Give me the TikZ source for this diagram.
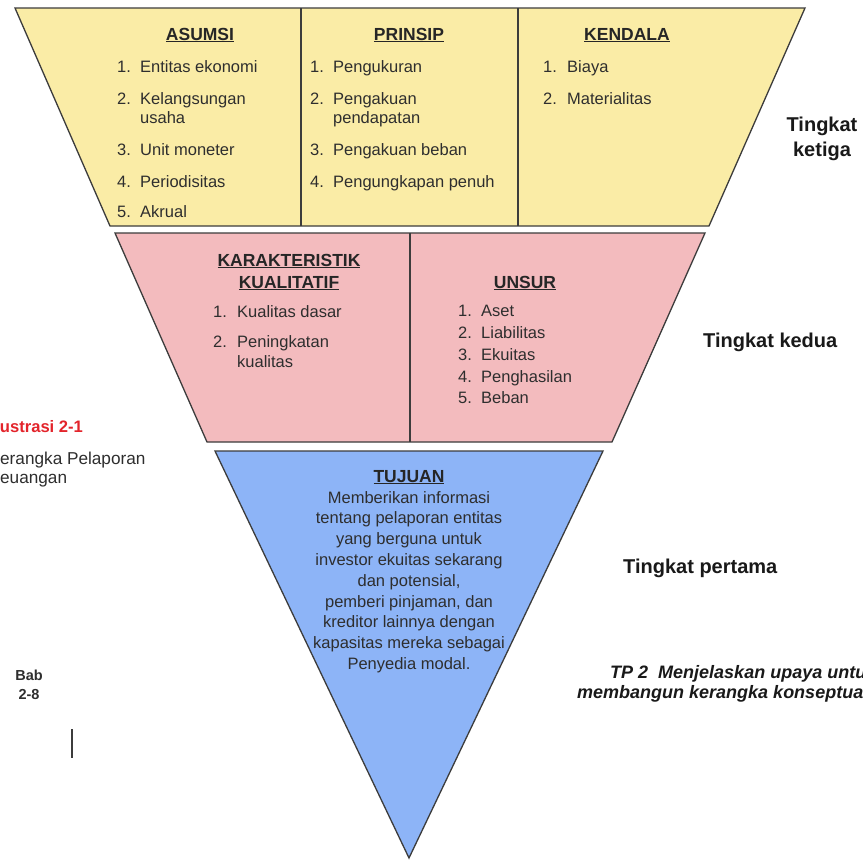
\documentclass[tikz,border=0pt]{standalone}
\usepackage{fontspec}
\setmainfont{Liberation Sans}
\definecolor{tieryellow}{HTML}{FAECA6}
\definecolor{tierpink}{HTML}{F3BBBE}
\definecolor{tierblue}{HTML}{8DB4F7}
\definecolor{edgegray}{HTML}{3C3C3C}
\definecolor{inkgray}{HTML}{2E2E2E}
\definecolor{labelred}{HTML}{E3242B}
\tikzset{
  tierbox/.style={draw=edgegray, line width=1.3pt, line join=miter},
  divider/.style={draw=edgegray, line width=1.1pt},
  numtxt/.style={anchor=base west, inner sep=0pt, text=inkgray,
    font=\fontsize{16.5}{19}\selectfont},
  itemtxt/.style={numtxt},
  headtxt/.style={anchor=base, inner sep=0pt, text=black!85,
    font=\bfseries\fontsize{17.5}{21}\selectfont},
  tiertxt/.style={anchor=base, inner sep=0pt, text=black!90,
    font=\bfseries\fontsize{20}{24}\selectfont},
  bodytxt/.style={anchor=base, inner sep=0pt, text=inkgray,
    font=\fontsize{16.5}{19}\selectfont},
  notetxt/.style={anchor=base west, inner sep=0pt, text=inkgray,
    font=\fontsize{17.2}{20}\selectfont},
  babtxt/.style={anchor=base, inner sep=0pt, text=inkgray,
    font=\bfseries\fontsize{14.5}{17}\selectfont},
  goaltxt/.style={anchor=base west, inner sep=0pt, text=black!90,
    font=\bfseries\itshape\fontsize{18}{21}\selectfont},
}
% numbered entry: name, x of number, x of text, baseline, number, text
\newcommand{\listentry}[6]{%
  \node[numtxt] (#1n) at (#2,#4) {#5};
  \node[itemtxt] (#1t) at (#3,#4) {#6};}
\begin{document}
\begin{tikzpicture}[x=1pt,y=-1pt]
\useasboundingbox (0,0) rectangle (863,860);
\clip (0,0) rectangle (863,860);
\fill[white] (0,0) rectangle (863,860);

% ---- third tier (yellow)
\draw[tierbox, fill=tieryellow] (15,8) -- (805,8) -- (709,226) -- (110,226) -- cycle;
\draw[divider] (301,8) -- (301,226);
\draw[divider] (518,8) -- (518,226);

% ---- second tier (pink)
\draw[tierbox, fill=tierpink] (115,233) -- (705,233) -- (612,442) -- (207,442) -- cycle;
\draw[divider] (410,233) -- (410,442);

% ---- first tier (blue)
\draw[tierbox, fill=tierblue] (215,451) -- (603,451) -- (409,858) -- cycle;

% ---- ASUMSI
\node[headtxt] (asumsi) at (200,40) {\underline{ASUMSI}};
\listentry{as1}{117}{140}{72}{1.}{Entitas ekonomi}
\listentry{as2}{117}{140}{104}{2.}{Kelangsungan}
\node[itemtxt] (as2b) at (140,123) {usaha};
\listentry{as3}{117}{140}{155}{3.}{Unit moneter}
\listentry{as4}{117}{140}{187}{4.}{Periodisitas}
\listentry{as5}{117}{140}{217}{5.}{Akrual}

% ---- PRINSIP
\node[headtxt] (prinsip) at (409,40) {\underline{PRINSIP}};
\listentry{pr1}{310}{333}{72}{1.}{Pengukuran}
\listentry{pr2}{310}{333}{104}{2.}{Pengakuan}
\node[itemtxt] (pr2b) at (333,123) {pendapatan};
\listentry{pr3}{310}{333}{155}{3.}{Pengakuan beban}
\listentry{pr4}{310}{333}{187}{4.}{Pengungkapan penuh}

% ---- KENDALA
\node[headtxt] (kendala) at (627,40) {\underline{KENDALA}};
\listentry{ke1}{543}{567}{72}{1.}{Biaya}
\listentry{ke2}{543}{567}{104}{2.}{Materialitas}

% ---- KARAKTERISTIK KUALITATIF
\node[headtxt] (karak) at (289,266) {\underline{KARAKTERISTIK}};
\node[headtxt] (kuali) at (289,288) {\underline{KUALITATIF}};
\listentry{kk1}{213}{237}{317}{1.}{Kualitas dasar}
\listentry{kk2}{213}{237}{347}{2.}{Peningkatan}
\node[itemtxt] (kk2b) at (237,367) {kualitas};

% ---- UNSUR
\node[headtxt] (unsur) at (525,288) {\underline{UNSUR}};
\listentry{un1}{458}{481}{316}{1.}{Aset}
\listentry{un2}{458}{481}{338}{2.}{Liabilitas}
\listentry{un3}{458}{481}{360}{3.}{Ekuitas}
\listentry{un4}{458}{481}{382}{4.}{Penghasilan}
\listentry{un5}{458}{481}{403}{5.}{Beban}

% ---- TUJUAN
\node[headtxt] (tujuan) at (409,482) {\underline{TUJUAN}};
\foreach \txt [count=\i] in {Memberikan informasi, tentang pelaporan entitas,
    yang berguna untuk, investor ekuitas sekarang, {dan potensial,},
    {pemberi pinjaman, dan}, kreditor lainnya dengan,
    kapasitas mereka sebagai, Penyedia modal.}
  \node[bodytxt] (tj\i) at (409,{503+20.8*(\i-1)}) {\txt};

% ---- tier labels
\node[tiertxt] (lvl3a) at (822,131) {Tingkat};
\node[tiertxt] (lvl3b) at (822,156) {ketiga};
\node[tiertxt, anchor=base west] (lvl2) at (703,347) {Tingkat kedua};
\node[tiertxt, anchor=base west] (lvl1) at (623,573) {Tingkat pertama};

% ---- side notes (running past the left and right edges of the page)
\node[anchor=base west, inner sep=0pt, text=labelred,
      font=\bfseries\fontsize{16.6}{20}\selectfont] (ilus) at (-9.5,432) {Ilustrasi 2-1};
\node[notetxt] (kp1) at (-11.5,464) {Kerangka Pelaporan};
\node[notetxt] (kp2) at (-11.5,483) {Keuangan};
\node[babtxt] (bab1) at (29,680) {Bab};
\node[babtxt] (bab2) at (29,699) {2-8};
\draw[line width=1.3pt, draw=edgegray] (72,729) -- (72,758);
\node[goaltxt] (tp1) at (610,678) {TP 2\ \ Menjelaskan upaya untuk};
\node[goaltxt] (tp2) at (577,698) {membangun kerangka konseptual};
\end{tikzpicture}
\end{document}
